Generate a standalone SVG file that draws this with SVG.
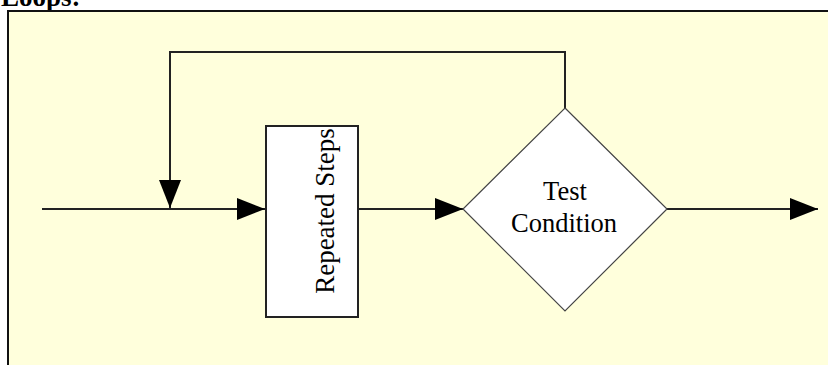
<svg xmlns="http://www.w3.org/2000/svg" width="828" height="365" viewBox="0 0 828 365">
<defs>
<style>
.t{font-family:"Liberation Serif","Times New Roman",serif;fill:#000}
.ln{stroke:#222;stroke-width:2;fill:none}
</style>
<marker id="ah" viewBox="0 0 28 22" refX="28" refY="11" markerWidth="28" markerHeight="22" markerUnits="userSpaceOnUse" orient="auto">
<path d="M0,0 L28,11 L0,22 Z" fill="#000"/>
</marker>
</defs>
<rect width="828" height="365" fill="#fff"/>
<text class="t" x="1" y="6" font-size="27" font-weight="bold">Loops:</text>
<rect x="8" y="11" width="830" height="370" fill="#FFFFDC" stroke="#111" stroke-width="2"/>
<g id="connectors">
<line class="ln" x1="42" y1="209" x2="265" y2="209" marker-end="url(#ah)"/>
<polyline class="ln" points="565,108 565,52 170,52 170,208" marker-end="url(#ah)"/>
<line class="ln" x1="358" y1="209" x2="463" y2="209" marker-end="url(#ah)"/>
<line class="ln" x1="667" y1="209" x2="818" y2="209" marker-end="url(#ah)"/>
</g>
<g id="repeated-steps">
<rect x="266" y="126" width="92" height="191" fill="#fff" stroke="#222" stroke-width="2"/>
<text class="t" font-size="27" text-anchor="middle" transform="translate(334,211) rotate(-90)">Repeated Steps</text>
</g>
<g id="test-condition">
<polygon points="565,108 667,209 565,311 463,209" fill="#fff" stroke="#444" stroke-width="1.2"/>
<text class="t" font-size="26.5" text-anchor="middle" x="565" y="200">Test</text>
<text class="t" font-size="26.5" text-anchor="middle" x="564" y="232">Condition</text>
</g>
</svg>
